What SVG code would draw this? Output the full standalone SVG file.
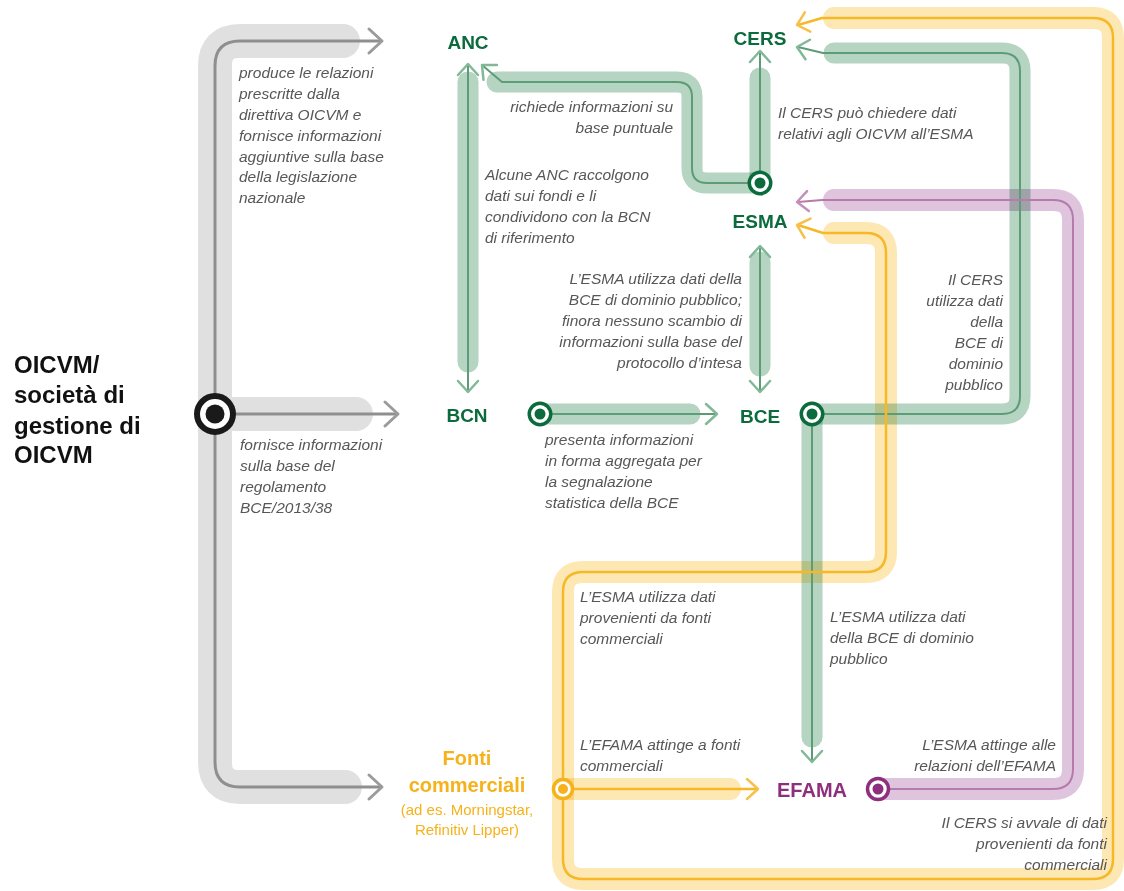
<svg xmlns="http://www.w3.org/2000/svg" xmlns:xlink="http://www.w3.org/1999/xlink" width="1124" height="891" viewBox="0 0 1124 891">
<style>
.t{font-family:"Liberation Sans",Arial,sans-serif;font-style:italic;font-size:15.5px;fill:#575757}
.r{text-anchor:end}
.n{font-family:"Liberation Sans",Arial,sans-serif;font-weight:bold;font-size:19px;fill:#0b6b3c;text-anchor:middle}
.ttl{font-family:"Liberation Sans",Arial,sans-serif;font-weight:bold;font-size:24px;fill:#111}
.fo{font-family:"Liberation Sans",Arial,sans-serif;font-weight:bold;font-size:20px;fill:#f6b21b;text-anchor:middle}
.fs{font-family:"Liberation Sans",Arial,sans-serif;font-size:15px;fill:#f6b21b;text-anchor:middle}
.ef{font-family:"Liberation Sans",Arial,sans-serif;font-weight:bold;font-size:20px;fill:#8d2f7d;text-anchor:middle}
path,use{fill:none;stroke-linecap:round;stroke-linejoin:round}
.gb{stroke:#e0e0e0;stroke-width:34}
.gl{stroke:#8f8f8f;stroke-width:3}
.ga{stroke:#9b9b9b;stroke-width:3}
.eb{stroke:#b6d4c2;stroke-width:21;mix-blend-mode:multiply}
.el{stroke:#5c9c76;stroke-width:2}
.ea{stroke:#82b898;stroke-width:2.5}
.ob{stroke:#fde8b4;stroke-width:22;mix-blend-mode:multiply}
.ol{stroke:#f6b826;stroke-width:2.5}
.oa{stroke:#f8c04a;stroke-width:2.5}
.pb{stroke:#dfc4dd;stroke-width:22;mix-blend-mode:multiply}
.pl{stroke:#b77aad;stroke-width:2}
.pa{stroke:#c48fbd;stroke-width:2.5}
</style>
<defs>
<path id="ch" d="M -11 -10 L 0 0 L -11 10"/>
<path id="chg" d="M -13 -12 L 0 0 L -13 12"/>
</defs>
<rect width="1124" height="891" fill="#fff"/>

<g id="connectors">
  <!-- bands -->
  <path class="gb" d="M 343 41 H 240 Q 215 41 215 66 V 762 Q 215 787 240 787 H 345"/>
  <path class="gb" d="M 215 414 H 356"/>
  <path class="eb" d="M 468 82 V 362"/>
  <path class="eb" d="M 760 183 H 707 Q 692 183 692 168 V 97 Q 692 82 677 82 H 497"/>
  <path class="eb" d="M 760 183 V 78"/>
  <path class="eb" d="M 760 262 V 366"/>
  <path class="eb" d="M 540 414 H 690"/>
  <path class="eb" d="M 812 414 H 1002 Q 1020 414 1020 396 V 71 Q 1020 53 1002 53 H 834"/>
  <path class="eb" d="M 812 414 V 737"/>
  <path class="ob" d="M 563 789 H 730"/>
  <path class="ob" d="M 563 789 V 592 Q 563 572 583 572 H 866 Q 886 572 886 552 V 253 Q 886 233 866 233 H 834"/>
  <path class="ob" d="M 563 789 V 859 Q 563 879 583 879 H 1093 Q 1113 879 1113 859 V 38 Q 1113 18 1093 18 H 834"/>
  <path class="pb" d="M 878 789 H 1053 Q 1073 789 1073 769 V 220 Q 1073 200 1053 200 H 834"/>
  <!-- thin lines -->
  <path class="gl" d="M 380 41 H 240 Q 215 41 215 66 V 762 Q 215 787 240 787 H 380"/>
  <path class="gl" d="M 215 414 H 396"/>
  <path class="el" d="M 468 66 V 390"/>
  <path class="el" d="M 760 183 H 707 Q 692 183 692 168 V 97 Q 692 82 677 82 H 502 L 482 65"/>
  <path class="el" d="M 760 183 V 52"/>
  <path class="el" d="M 760 247 V 391"/>
  <path class="el" d="M 540 414 H 716"/>
  <path class="el" d="M 812 414 H 1002 Q 1020 414 1020 396 V 71 Q 1020 53 1002 53 H 823 L 798 47"/>
  <path class="el" d="M 812 414 V 761"/>
  <path class="ol" d="M 563 789 H 757"/>
  <path class="ol" d="M 563 789 V 592 Q 563 572 583 572 H 866 Q 886 572 886 552 V 253 Q 886 233 866 233 H 823 L 798 225"/>
  <path class="ol" d="M 563 789 V 859 Q 563 879 583 879 H 1093 Q 1113 879 1113 859 V 38 Q 1113 18 1093 18 H 822 L 798 25"/>
  <path class="pl" d="M 878 789 H 1053 Q 1073 789 1073 769 V 220 Q 1073 200 1053 200 H 822 L 798 202"/>
  <!-- arrowheads -->
  <use href="#chg" class="ga" transform="translate(382,41)"/>
  <use href="#chg" class="ga" transform="translate(398,414)"/>
  <use href="#chg" class="ga" transform="translate(382,787)"/>
  <use href="#ch" class="ea" transform="translate(468,64) rotate(-90)"/>
  <use href="#ch" class="ea" transform="translate(468,392) rotate(90)"/>
  <use href="#ch" class="ea" transform="translate(482,65) rotate(-138)"/>
  <use href="#ch" class="ea" transform="translate(760,51) rotate(-90)"/>
  <use href="#ch" class="ea" transform="translate(760,246) rotate(-90)"/>
  <use href="#ch" class="ea" transform="translate(760,392) rotate(90)"/>
  <use href="#ch" class="ea" transform="translate(717,414)"/>
  <use href="#ch" class="ea" transform="translate(797,47) rotate(-167)"/>
  <use href="#ch" class="ea" transform="translate(812,762) rotate(90)"/>
  <use href="#ch" class="oa" transform="translate(758,789)"/>
  <use href="#ch" class="oa" transform="translate(797,225) rotate(-163)"/>
  <use href="#ch" class="oa" transform="translate(797,25) rotate(164)"/>
  <use href="#ch" class="pa" transform="translate(797,202) rotate(175)"/>
</g>

<g id="labels">
  <text class="t" x="239"><tspan x="239" y="78">produce le relazioni</tspan><tspan x="239" y="99">prescritte dalla</tspan><tspan x="239" y="120">direttiva OICVM e</tspan><tspan x="239" y="141">fornisce informazioni</tspan><tspan x="239" y="162">aggiuntive sulla base</tspan><tspan x="239" y="182">della legislazione</tspan><tspan x="239" y="203">nazionale</tspan></text>
  <text class="t"><tspan x="240" y="450">fornisce informazioni</tspan><tspan x="240" y="471">sulla base del</tspan><tspan x="240" y="492">regolamento</tspan><tspan x="240" y="513">BCE/2013/38</tspan></text>
  <text class="t r"><tspan x="673" y="112">richiede informazioni su</tspan><tspan x="673" y="133">base puntuale</tspan></text>
  <text class="t"><tspan x="485" y="180">Alcune ANC raccolgono</tspan><tspan x="485" y="201">dati sui fondi e li</tspan><tspan x="485" y="222">condividono con la BCN</tspan><tspan x="485" y="243">di riferimento</tspan></text>
  <text class="t"><tspan x="778" y="118">Il CERS può chiedere dati</tspan><tspan x="778" y="139">relativi agli OICVM all’ESMA</tspan></text>
  <text class="t r"><tspan x="742" y="284">L’ESMA utilizza dati della</tspan><tspan x="742" y="305">BCE di dominio pubblico;</tspan><tspan x="742" y="326">finora nessuno scambio di</tspan><tspan x="742" y="347">informazioni sulla base del</tspan><tspan x="742" y="368">protocollo d’intesa</tspan></text>
  <text class="t r"><tspan x="1003" y="285">Il CERS</tspan><tspan x="1003" y="306">utilizza dati</tspan><tspan x="1003" y="327">della</tspan><tspan x="1003" y="348">BCE di</tspan><tspan x="1003" y="369">dominio</tspan><tspan x="1003" y="390">pubblico</tspan></text>
  <text class="t"><tspan x="545" y="445">presenta informazioni</tspan><tspan x="545" y="466">in forma aggregata per</tspan><tspan x="545" y="487">la segnalazione</tspan><tspan x="545" y="508">statistica della BCE</tspan></text>
  <text class="t"><tspan x="580" y="602">L’ESMA utilizza dati</tspan><tspan x="580" y="623">provenienti da fonti</tspan><tspan x="580" y="644">commerciali</tspan></text>
  <text class="t"><tspan x="830" y="622">L’ESMA utilizza dati</tspan><tspan x="830" y="643">della BCE di dominio</tspan><tspan x="830" y="664">pubblico</tspan></text>
  <text class="t"><tspan x="580" y="750">L’EFAMA attinge a fonti</tspan><tspan x="580" y="771">commerciali</tspan></text>
  <text class="t r"><tspan x="1056" y="750">L’ESMA attinge alle</tspan><tspan x="1056" y="771">relazioni dell’EFAMA</tspan></text>
  <text class="t r"><tspan x="1107" y="828">Il CERS si avvale di dati</tspan><tspan x="1107" y="849">provenienti da fonti</tspan><tspan x="1107" y="870">commerciali</tspan></text>
</g>

<g id="oicvm">
  <text class="ttl"><tspan x="14" y="373">OICVM/</tspan><tspan x="14" y="403">società di</tspan><tspan x="14" y="434">gestione di</tspan><tspan x="14" y="463">OICVM</tspan></text>
  <circle cx="215" cy="414" r="18" fill="#fff" stroke="#1a1a1a" stroke-width="6"/>
  <circle cx="215" cy="414" r="9.5" fill="#1a1a1a"/>
</g>
<g id="anc"><text class="n" x="468" y="49">ANC</text></g>
<g id="cers"><text class="n" x="760" y="45">CERS</text></g>
<g id="esma">
  <text class="n" x="760" y="228">ESMA</text>
  <circle cx="760" cy="183" r="10.75" fill="#fff" stroke="#0b6b3c" stroke-width="3.5"/>
  <circle cx="760" cy="183" r="5.5" fill="#0b6b3c"/>
</g>
<g id="bcn">
  <text class="n" x="467" y="422">BCN</text>
  <circle cx="540" cy="414" r="10.75" fill="#fff" stroke="#0b6b3c" stroke-width="3.5"/>
  <circle cx="540" cy="414" r="5.5" fill="#0b6b3c"/>
</g>
<g id="bce">
  <text class="n" x="760" y="423">BCE</text>
  <circle cx="812" cy="414" r="10.75" fill="#fff" stroke="#0b6b3c" stroke-width="3.5"/>
  <circle cx="812" cy="414" r="5.5" fill="#0b6b3c"/>
</g>
<g id="fonti">
  <text class="fo" x="467" y="765">Fonti</text>
  <text class="fo" x="467" y="792">commerciali</text>
  <text class="fs" x="467" y="815">(ad es. Morningstar,</text>
  <text class="fs" x="467" y="835">Refinitiv Lipper)</text>
  <circle cx="563" cy="789" r="9.5" fill="#fff" stroke="#f6b21b" stroke-width="3.5"/>
  <circle cx="563" cy="789" r="5" fill="#f6b21b"/>
</g>
<g id="efama">
  <text class="ef" x="812" y="797">EFAMA</text>
  <circle cx="878" cy="789" r="10.5" fill="#fff" stroke="#8d2f7d" stroke-width="3.5"/>
  <circle cx="878" cy="789" r="5.5" fill="#8d2f7d"/>
</g>
</svg>
